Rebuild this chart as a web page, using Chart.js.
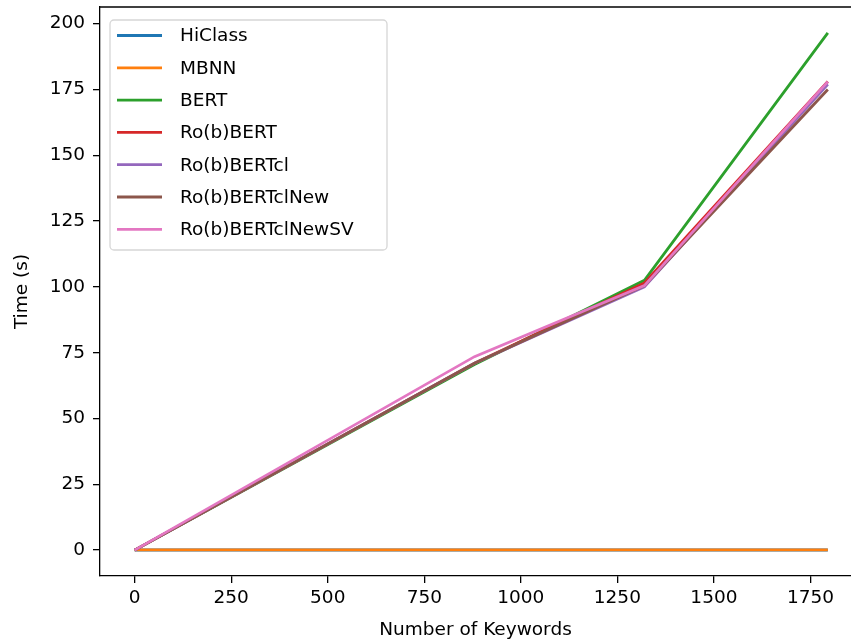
<!DOCTYPE html>
<html lang="en">
<head>
    <meta charset="UTF-8">
    <title>Time vs Number of Keywords</title>
    <script src="https://cdn.jsdelivr.net/npm/chart.js"></script>
    <style>
        html, body {
            margin: 0;
            padding: 0;
            background: #ffffff;
            overflow: hidden;
        }
        #timeChart {
            display: block;
        }
    </style>
</head>
<body>
    <canvas id="timeChart" width="851" height="642"></canvas>
    <script>
        // number of keywords (x)
        const keywords = [0, 880, 1320, 1795];

        const seriesNames = ['HiClass', 'MBNN', 'BERT', 'Ro(b)BERT', 'Ro(b)BERTcl', 'Ro(b)BERTclNew', 'Ro(b)BERTclNewSV'];
        const hiclass = [0.05, 0.05, 0.05, 0.05];
        const mbnn = [0.1, 0.1, 0.1, 0.1];
        const bert = [0, 70.5, 102.5, 196.5];
        const robert = [0, 71, 101.5, 178];
        const robertCl = [0, 71, 100, 177];
        const robertClNew = [0, 71, 100.5, 175];
        const robertClNewSV = [0, 73.5, 100.5, 178];

        const xTicks = [0, 250, 500, 750, 1000, 1250, 1500, 1750];
        const yTicks = [0, 25, 50, 75, 100, 125, 150, 175, 200];

        const colors = ['#1f77b4', '#ff7f0e', '#2ca02c', '#d62728', '#9467bd', '#8c564b', '#e377c2'];
        const allSeries = [hiclass, mbnn, bert, robert, robertCl, robertClNew, robertClNewSV];

        const FONT = 'DejaVu Sans';
        const FS = 18.5;

        // matplotlib style 5% margins
        let yMinData = Infinity, yMaxData = -Infinity;
        allSeries.forEach(s => s.forEach(v => { yMinData = Math.min(yMinData, v); yMaxData = Math.max(yMaxData, v); }));
        const xMinData = Math.min(...keywords), xMaxData = Math.max(...keywords);
        const xPad = (xMaxData - xMinData) * 0.05;
        const yPad = (yMaxData - yMinData) * 0.05;
        // the original picture is cut off on the right, before the axes end
        const xViewMax = 1855;

        const datasets = allSeries.map((vals, i) => ({
            label: seriesNames[i],
            data: keywords.map((k, j) => ({ x: k, y: vals[j] })),
            borderColor: colors[i],
            backgroundColor: colors[i],
            borderWidth: 2.8,
            pointRadius: 0,
            tension: 0,
            fill: false,
            order: allSeries.length - i
        }));

        const noPad = s => {
            s.paddingTop = 0;
            s.paddingBottom = 0;
            s.paddingLeft = 0;
            s.paddingRight = 0;
        };

        const framePlugin = {
            id: 'frameAndLegend',
            afterDraw(chart) {
                const ctx = chart.ctx;
                const a = chart.chartArea;
                ctx.save();
                // top spine (right spine is outside the crop)
                ctx.strokeStyle = '#000';
                ctx.lineWidth = 1.3;
                ctx.beginPath();
                ctx.moveTo(a.left, a.top);
                ctx.lineTo(a.right + 2, a.top);
                ctx.stroke();

                // legend box, upper left
                const bx = 110, by = 20, bw = 277, bh = 230, r = 4;
                ctx.beginPath();
                ctx.moveTo(bx + r, by);
                ctx.arcTo(bx + bw, by, bx + bw, by + bh, r);
                ctx.arcTo(bx + bw, by + bh, bx, by + bh, r);
                ctx.arcTo(bx, by + bh, bx, by, r);
                ctx.arcTo(bx, by, bx + bw, by, r);
                ctx.closePath();
                ctx.fillStyle = 'rgba(255,255,255,0.8)';
                ctx.fill();
                ctx.strokeStyle = 'rgba(204,204,204,0.8)';
                ctx.lineWidth = 1.3;
                ctx.stroke();

                ctx.font = FS + 'px "' + FONT + '"';
                ctx.textBaseline = 'middle';
                ctx.textAlign = 'left';
                chart.data.datasets.forEach((ds, i) => {
                    const yy = 35.5 + i * 32.3;
                    ctx.strokeStyle = ds.borderColor;
                    ctx.lineWidth = 2.8;
                    ctx.beginPath();
                    ctx.moveTo(117, yy);
                    ctx.lineTo(162, yy);
                    ctx.stroke();
                    ctx.fillStyle = '#000';
                    ctx.fillText(ds.label, 180, yy + 1);
                });
                ctx.restore();
            }
        };

        new Chart(document.getElementById('timeChart'), {
            type: 'line',
            data: { datasets: datasets },
            options: {
                responsive: false,
                animation: false,
                devicePixelRatio: 1,
                layout: { padding: { top: 7, left: 0, right: 0, bottom: 0 } },
                plugins: {
                    legend: { display: false },
                    tooltip: { enabled: false }
                },
                scales: {
                    x: {
                        type: 'linear',
                        min: xMinData - xPad,
                        max: Math.min(xMaxData + xPad, xViewMax),
                        afterBuildTicks: s => { s.ticks = xTicks.map(v => ({ value: v })); },
                        afterFit: s => { s.height = 66; noPad(s); },
                        grid: { display: true, drawOnChartArea: false, drawTicks: true, tickLength: 7, color: '#000', lineWidth: 1.3 },
                        border: { display: true, color: '#000', width: 1.3 },
                        ticks: { color: '#000', font: { family: FONT, size: FS }, padding: 4, maxRotation: 0, autoSkip: false, callback: v => String(v) },
                        title: { display: true, text: 'Number of Keywords', color: '#000', font: { family: FONT, size: FS }, padding: { top: 0, bottom: 1 } }
                    },
                    y: {
                        type: 'linear',
                        min: yMinData - yPad,
                        max: yMaxData + yPad,
                        afterBuildTicks: s => { s.ticks = yTicks.map(v => ({ value: v })); },
                        afterFit: s => { s.width = 100; noPad(s); },
                        grid: { display: true, drawOnChartArea: false, drawTicks: true, tickLength: 7, color: '#000', lineWidth: 1.3 },
                        border: { display: true, color: '#000', width: 1.3 },
                        ticks: { color: '#000', font: { family: FONT, size: FS }, padding: 8, autoSkip: false, callback: v => String(v) },
                        title: { display: true, text: 'Time (s)', color: '#000', font: { family: FONT, size: FS }, padding: { top: 11, bottom: 0 } }
                    }
                }
            },
            plugins: [framePlugin]
        });
    </script>
</body>
</html>
